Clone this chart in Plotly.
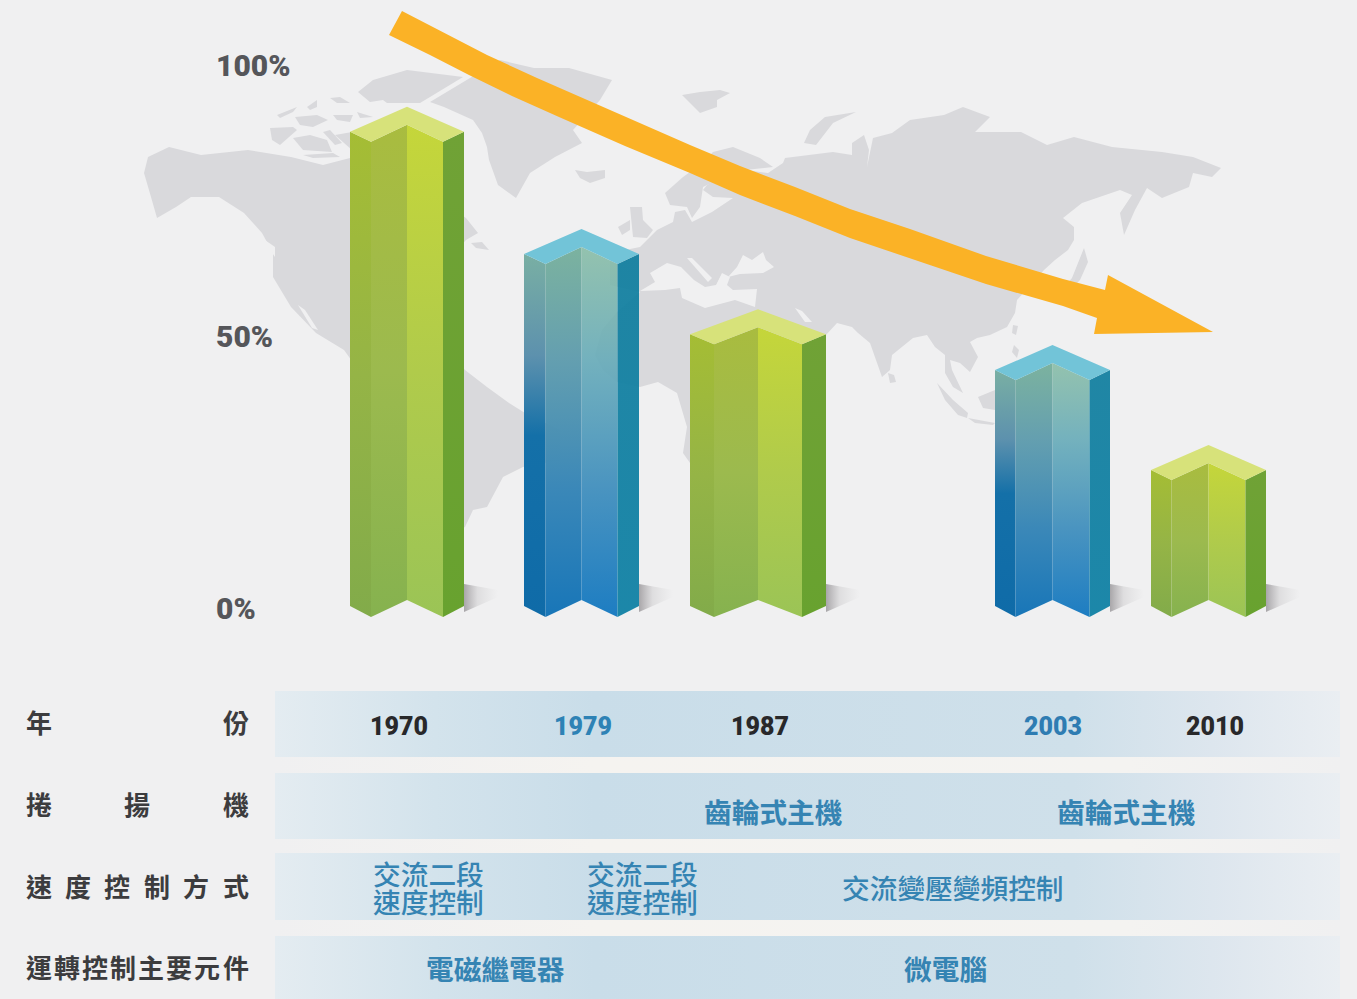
import plotly.graph_objects as go

# ---------- data ----------
years = ["1970", "1979", "1987", "2003", "2010"]
share_pct = [89.0, 66.5, 51.7, 45.1, 26.7]
bar_family = ["green", "blue", "green", "blue", "green"]
pct_ticks = [100, 50, 0]
pct_labels = ["100%", "50%", "0%"]
row_names = ["年份", "捲揚機", "速度控制方式", "運轉控制主要元件"]
hoist_items = ["齒輪式主機", "齒輪式主機"]
speed_items = ["交流二段", "速度控制", "交流二段", "速度控制", "交流變壓變頻控制"]
parts_items = ["電磁繼電器", "微電腦"]

# ---------- layout constants (pixels) ----------
W, H = 1357, 999
ZERO_PX, PX_PER_PCT = 608, 5.43
def to_pct(py):
    return (ZERO_PX - py) / PX_PER_PCT
def px_delta(d):
    return d / PX_PER_PCT

bar_center = [407, 581.5, 758, 1052.5, 1208.5]
bar_half = [57, 57.5, 68, 57.5, 57.5]
bar_inset = [36, 36, 44, 37, 37]
year_x = [400, 584, 761, 1054, 1216]
year_color = ["#28282a", "#2e82b5", "#28282a", "#2e7cb2", "#28282a"]

BG = "#f0f0f1"
MAP = "#d9d9dc"
ARROW = "#fbb226"
TXT_BLUE = "#3584b3"
CJK = "Noto Sans CJK TC"

PALETTE = {
    "green": {
        "top": "#d7e27a",
        "left": [[0, "#82ab4a"], [0.5, "#95b446"], [1, "#a5bd34"]],
        "midl": [[0, "#86b24f"], [0.5, "#9cba4e"], [1, "#a9bc3f"]],
        "midr": [[0, "#9bc456"], [0.5, "#b0cb4b"], [1, "#c5d63a"]],
        "right": [[0, "#68a22f"], [1, "#70a236"]],
    },
    "blue": {
        "top": "#72c4d8",
        "left": [[0, "#0f6ba8"], [0.5, "#1470a8"], [0.72, "rgba(85,140,170,0.95)"], [1, "rgba(108,168,155,0.9)"]],
        "midl": [[0, "#1876b8"], [0.35, "#3b88b8"], [0.7, "rgba(88,152,170,0.92)"], [1, "rgba(108,170,148,0.88)"]],
        "midr": [[0, "#1d7dc2"], [0.35, "#4a94c0"], [0.7, "rgba(105,172,185,0.92)"], [1, "rgba(135,188,165,0.88)"]],
        "right": [[0, "#1c87a9"], [1, "rgba(14,125,158,0.92)"]],
    },
}

# ---------- background map outlines (pixel space, decorative) ----------
land = [
    # North + Central / South America
    [(144,173),(148,157),(169,147),(201,155),(248,150),(291,157),(323,165),(350,158),(400,170),(440,200),(466,218),(478,233),(466,240),(440,270),(440,340),(465,370),(487,387),(509,403),(525,413),(560,430),(560,460),(523,467),(503,477),(487,507),(473,510),(465,527),(440,540),(400,450),(380,400),(344,350),(316,333),(291,307),(273,277),(273,253),(262,233),(244,213),(219,197),(191,197),(176,207),(157,218),(151,197)],
    # Eurasia + Africa
    [(610,255),(625,250),(640,247),(657,230),(673,222),(675,212),(685,210),(692,222),(712,212),(723,205),(733,198),(713,197),(703,190),(707,185),(720,178),(745,170),(768,173),(783,163),(785,158),(833,152),(852,155),(852,143),(864,135),(869,150),(867,167),(873,138),(892,133),(910,120),(944,115),(963,107),(990,117),(975,132),(1021,132),(1047,145),(1074,137),(1112,147),(1162,152),(1193,157),(1221,168),(1212,177),(1193,173),(1189,187),(1162,198),(1147,188),(1135,210),(1124,235),(1120,213),(1132,195),(1120,190),(1082,203),(1063,218),(1074,227),(1074,240),(1068,250),(1055,260),(1044,270),(1017,300),(1015,313),(1007,327),(990,335),(977,338),(970,342),(978,357),(970,372),(960,363),(950,360),(952,370),(963,393),(953,387),(945,373),(945,355),(935,347),(927,335),(913,338),(892,355),(890,370),(882,377),(870,343),(858,333),(852,327),(837,323),(826,335),(800,370),(780,390),(760,470),(720,470),(690,463),(683,453),(687,427),(677,393),(658,382),(640,387),(617,382),(603,370),(595,355),(602,330),(617,312),(640,292),(610,285)],
    # Scandinavia + Kola
    [(665,193),(683,177),(700,165),(713,152),(733,147),(760,158),(773,167),(745,170),(707,185),(703,187),(700,207),(692,218),(687,207),(670,205)],
    # Greenland
    [(430,102),(466,80),(500,60),(534,68),(569,68),(612,80),(600,100),(573,130),(582,143),(555,157),(530,173),(516,198),(498,185),(489,160),(487,147),(482,133),(473,120),(444,107)],
    # Arctic Canada
    [(358,92),(373,80),(407,70),(463,77),(430,97),(420,103),(387,103),(383,100),(370,102)],
    [(277,115),(297,107),(293,112),(280,118)],
    [(307,107),(317,100),(317,107),(310,110)],
    [(330,98),(340,97),(350,103),(337,103)],
    [(295,117),(317,115),(328,120),(313,127),(300,125)],
    [(333,115),(353,115),(350,122),(337,120)],
    [(357,112),(373,117),(360,118)],
    [(270,128),(293,127),(297,130),(280,145),(272,140)],
    [(293,138),(310,135),(327,140),(332,152),(303,150)],
    [(303,155),(333,153),(340,157),(313,158)],
    [(323,132),(330,130),(342,143),(335,145)],
    [(335,135),(352,132),(352,150)],
    # Newfoundland
    [(471,243),(482,242),(489,250),(476,248)],
    # Iceland, Britain, Ireland, Svalbard, Novaya Zemlya
    [(575,170),(587,172),(605,170),(605,178),(590,183),(580,178)],
    [(630,207),(642,207),(643,220),(653,230),(647,238),(633,237)],
    [(618,227),(630,220),(630,230),(622,235)],
    [(682,95),(700,92),(720,90),(730,93),(717,100),(717,107),(700,113),(690,103)],
    [(804,143),(810,130),(825,117),(856,112),(833,123),(816,145)],
    # Japan, Taiwan, Philippines, Ceylon, Sumatra, Java, Borneo
    [(1084,248),(1088,262),(1080,280),(1070,290),(1060,292),(1072,278)],
    [(1013,325),(1018,326),(1016,335),(1012,333)],
    [(1014,345),(1019,350),(1017,358),(1012,352)],
    [(888,373),(894,375),(896,382),(890,383)],
    [(937,383),(953,400),(968,413),(967,418),(958,415),(945,400)],
    [(968,418),(995,423),(993,425),(975,423)],
    [(978,397),(995,390),(995,410),(983,408)],
]
seas = [
    # Mediterranean
    [(640,291),(655,282),(650,273),(667,263),(681,267),(694,280),(705,287),(716,285),(722,273),(730,277),(727,285),(733,290),(757,289),(755,307),(735,300),(705,308),(682,298),(680,288),(665,290)],
    # Adriatic
    [(687,258),(692,258),(712,278),(708,282)],
    # Black Sea
    [(737,267),(743,255),(752,260),(763,252),(766,260),(774,267),(763,273),(740,274),(728,277)],
    # Persian Gulf
    [(795,308),(802,311),(812,322),(805,322)],
    # Gulf of California and Pacific inlet
    [(298,305),(305,310),(318,330),(312,328)],
    [(262,238),(275,247),(275,257)],
]
arrow_outline = [(402,11),(445,33),(487,55),(537,78),(587,100),(640,123),(690,145),(740,166),(795,187),(850,209),(910,229),(986,256),(1063,279),(1105,290),(1108,275),(1213,332),(1094,334),(1097,318),(1063,306),(986,284),(910,258),(850,238),(795,216),(740,195),(690,173),(625,146),(559,117),(512,96),(469,75),(430,55),(389,35)]
row_bands = [(691,757),(773,839),(853,920),(936,999)]

fig = go.Figure()

def poly(points, **kw):
    xs = [p[0] for p in points] + [points[0][0]]
    ys = [p[1] for p in points] + [points[0][1]]
    fig.add_trace(go.Scatter(x=xs, y=ys, mode="lines", fill="toself",
                             line=dict(width=0), hoverinfo="skip", showlegend=False, **kw))

band_scale = [[0, "#e4ecf1"], [0.15, "#d3e3ec"], [0.3, "#c9dde9"], [0.75, "#cfe0ea"], [0.88, "#dde6ee"], [1, "#eaeef2"]]
for top, bot in row_bands:
    poly([(275, top), (1340, top), (1340, bot), (275, bot)],
         fillgradient=dict(type="horizontal", colorscale=band_scale))
gap_scale = [[0, "#f0f0f1"], [0.3, "#f5f3f0"], [0.8, "#f4f3f1"], [1, "#f0f0f1"]]
for a, b in zip(row_bands[:-1], row_bands[1:]):
    poly([(275, a[1]), (1340, a[1]), (1340, b[0]), (275, b[0])],
         fillgradient=dict(type="horizontal", colorscale=gap_scale))

for outline in land:
    poly(outline, fillcolor=MAP)
for outline in seas:
    poly(outline, fillcolor=BG)

# soft shadows at the foot of each bar
for c, hw in zip(bar_center, bar_half):
    r = c + hw
    poly([(r, 612), (r, 584), (r + 34, 590), (r + 34, 597)],
         fillgradient=dict(type="horizontal",
                           colorscale=[[0, "rgba(70,65,70,0.42)"], [0.4, "rgba(90,85,90,0.12)"], [1, "rgba(120,120,120,0)"]]))

poly(arrow_outline, fillcolor=ARROW)

# bars: folded columns, every height driven by the value through the % axis
APEX, SIDE, FRONT = 18, 7, 17
BASE_SIDE, BASE_FRONT, BASE_FOLD = 2, -9, 8

def face(xs, ys, **kw):
    fig.add_trace(go.Scatter(x=xs + xs[:1], y=ys + ys[:1], yaxis="y2", mode="lines", fill="toself",
                             line=dict(width=0), hoverinfo="skip", showlegend=False, **kw))

for val, fam, c, hw, ins in zip(share_pct, bar_family, bar_center, bar_half, bar_inset):
    pal = PALETTE[fam]
    L, FL, FR, R = c - hw, c - ins, c + ins, c + hw
    side_t = val - px_delta(SIDE)
    front_t = val - px_delta(FRONT)
    apex_t = val + px_delta(APEX)
    side_b, front_b, fold_b = px_delta(BASE_SIDE), px_delta(BASE_FRONT), px_delta(BASE_FOLD)
    grad = lambda k: dict(fillgradient=dict(type="vertical", colorscale=pal[k]))
    face([L, FL, FL, L], [side_b, front_b, front_t, side_t], **grad("left"))
    face([FL, c, c, FL], [front_b, fold_b, val, front_t], **grad("midl"))
    face([c, FR, FR, c], [fold_b, front_b, front_t, val], **grad("midr"))
    face([FR, R, R, FR], [front_b, side_b, side_t, front_t], **grad("right"))
    face([L, c, R, FR, c, FL], [side_t, apex_t, side_t, front_t, val, front_t], fillcolor=pal["top"])

# ---------- text ----------
notes = []
def note(x, y, text, size, color, family=CJK, weight="bold", anchor="center", yref="y"):
    notes.append(dict(x=x, y=y, xref="x", yref=yref, text=text, showarrow=False, xanchor=anchor, yanchor="middle",
                      font=dict(family=family, size=size, color=color, weight=weight)))

for v, lab in zip(pct_ticks, pct_labels):
    note(214, v, lab, 30, "#55565a", family="Roboto", weight=900, anchor="left", yref="y2")

row_y = [721, 803, 885, 966]
for name, y in zip(row_names, row_y):
    n = len(name)
    for i, ch in enumerate(name):
        note(38.5 + i * (197 / (n - 1)), y, ch, 26, "#3c3c3e")

for yr, x, col in zip(years, year_x, year_color):
    note(x - 1, 726, yr, 25, col, family="Roboto", weight=900)

for t, x in zip(hoist_items, [773, 1126]):
    note(x, 811, t, 27.7, TXT_BLUE)
for t, x, y in zip(speed_items, [428, 428, 642, 642, 953], [873, 901, 873, 901, 887]):
    note(x, y, t, 27.7, TXT_BLUE, weight=500)
for t, x in zip(parts_items, [495, 945]):
    note(x, 968, t, 27.7, TXT_BLUE)

fig.update_layout(
    width=W, height=H, margin=dict(l=0, r=0, t=0, b=0),
    paper_bgcolor=BG, plot_bgcolor=BG, showlegend=False, annotations=notes,
    xaxis=dict(range=[0, W], visible=False, fixedrange=True),
    yaxis=dict(range=[H, 0], visible=False, fixedrange=True),
    yaxis2=dict(range=[to_pct(H), to_pct(0)], visible=False, overlaying="y", fixedrange=True),
)

fig.write_html("out.html", config={"displayModeBar": False},
               post_script="document.body.style.margin='0';document.documentElement.style.overflow='hidden';document.body.style.background='#f0f0f1';")
